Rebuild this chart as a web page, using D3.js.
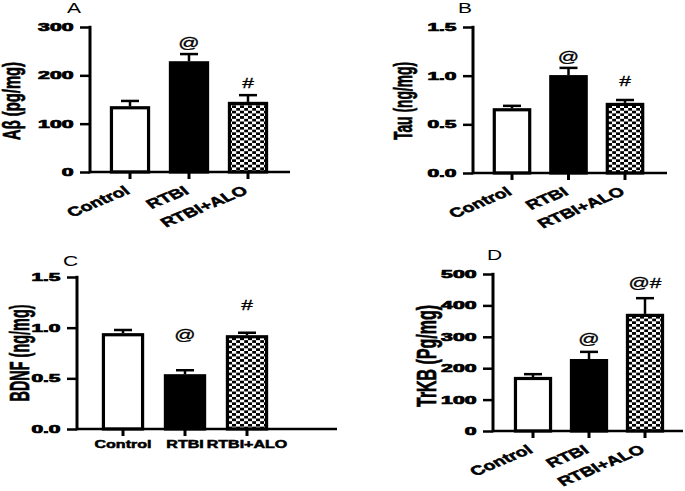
<!DOCTYPE html>
<html>
<head>
<meta charset="utf-8">
<script src="https://cdn.jsdelivr.net/npm/d3@7"></script>
<style>
  html, body { margin: 0; padding: 0; background: #fff; }
  svg { display: block; }
  text { font-family: "Liberation Sans", Arial, sans-serif; fill: #000; }
</style>
</head>
<body>
<svg id="chart" width="685" height="491"></svg>
<script>
// ---------- data ----------
const categories = ["Control", "RTBI", "RTBI+ALO"];

const abetaMean = [136, 229, 145];
const abetaSem  = [11, 15, 14];
const abetaMarks = ["", "@", "#"];
const abetaMarkY = [null, 256, 174];
const abetaTicks = [0, 100, 200, 300];

const tauMean = [0.665, 1.005, 0.72];
const tauSem  = [0.025, 0.075, 0.03];
const tauMarks = ["", "@", "#"];
const tauMarkY = [null, 1.14, 0.894];
const tauTicks = [0, 0.5, 1.0, 1.5];

const bdnfMean = [0.945, 0.54, 0.925];
const bdnfSem  = [0.032, 0.04, 0.025];
const bdnfMarks = ["", "@", "#"];
const bdnfMarkY = [null, 0.878, 1.174];
const bdnfTicks = [0, 0.5, 1.0, 1.5];

const trkbMean = [172, 229, 373];
const trkbSem  = [9, 23, 50];
const trkbMarks = ["", "@", "@#"];
const trkbMarkY = [null, 277, 455];
const trkbTicks = [0, 100, 200, 300, 400, 500];

// ---------- layout ----------
const SX = 1.5; // horizontal stretch of the reference figure
const panels = [
  { letter: "A", letterX: 67, letterY: 13, label: "Aβ (pg/mg)", labelX: 20, labelY: 101, labelSize: 16, labelLen: 78,
    mean: abetaMean, sem: abetaSem, marks: abetaMarks, markY: abetaMarkY, ticks: abetaTicks, fmt: d3.format("d"),
    axisX: 90, axisRight: 290, yTop: 27, yBottom: 172, c0: 130, c2: 248, rotated: true },
  { letter: "B", letterX: 458, letterY: 13, label: "Tau (ng/mg)", labelX: 412, labelY: 101, labelSize: 17, labelLen: 78,
    mean: tauMean, sem: tauSem, marks: tauMarks, markY: tauMarkY, ticks: tauTicks, fmt: d3.format(".1f"),
    axisX: 473, axisRight: 667, yTop: 27, yBottom: 173, c0: 512, c2: 625, rotated: true },
  { letter: "C", letterX: 63, letterY: 266, label: "BDNF (ng/mg)", labelX: 29, labelY: 353, labelSize: 18, labelLen: 97,
    mean: bdnfMean, sem: bdnfSem, marks: bdnfMarks, markY: bdnfMarkY, ticks: bdnfTicks, fmt: d3.format(".1f"),
    axisX: 77, axisRight: 337, yTop: 277, yBottom: 429, c0: 123, c2: 247, rotated: false },
  { letter: "D", letterX: 487, letterY: 260, label: "TrKB (Pg/mg)", labelX: 436, labelY: 356, labelSize: 18, labelLen: 102,
    mean: trkbMean, sem: trkbSem, marks: trkbMarks, markY: trkbMarkY, ticks: trkbTicks, fmt: d3.format("d"),
    axisX: 493, axisRight: 683, yTop: 274, yBottom: 431, c0: 533, c2: 645, rotated: true }
];

const svg = d3.select("#chart");

// checker pattern
const defs = svg.append("defs");
const pat = defs.append("pattern").attr("id", "checker")
  .attr("patternUnits", "userSpaceOnUse").attr("width", 8).attr("height", 5.4);
pat.append("rect").attr("width", 8).attr("height", 5.4).attr("fill", "#000");
pat.append("rect").attr("x", 0).attr("y", 0).attr("width", 4.2).attr("height", 2.7).attr("fill", "#fff");
pat.append("rect").attr("x", 4).attr("y", 2.7).attr("width", 4.2).attr("height", 2.7).attr("fill", "#fff");

const fills = ["#fff", "#000", "url(#checker)"];

function tickLen(s) {
  let w = 0;
  for (const ch of s) w += (ch === ".") ? 5.5 : 11.8;
  return w / SX;
}

panels.forEach(p => {
  const g = svg.append("g");
  const step = (p.c2 - p.c0) / 2;
  const x = d3.scaleBand().domain(categories)
    .range([p.c0 - step / 2, p.c2 + step / 2])
    .paddingInner(0.32).paddingOuter(0.16);
  const y = d3.scaleLinear().domain([0, d3.max(p.ticks)]).range([p.yBottom, p.yTop]);

  // bars
  categories.forEach((c, i) => {
    const bx = x(c), bw = x.bandwidth();
    const yTopErr = y(p.mean[i] + p.sem[i]);
    g.append("line").attr("x1", bx + bw / 2).attr("x2", bx + bw / 2)
      .attr("y1", y(p.mean[i])).attr("y2", yTopErr)
      .attr("stroke", "#000").attr("stroke-width", 2.5);
    g.append("line").attr("x1", bx + bw / 2 - 9).attr("x2", bx + bw / 2 + 9)
      .attr("y1", yTopErr).attr("y2", yTopErr)
      .attr("stroke", "#000").attr("stroke-width", 2.5);
    g.append("rect").attr("x", bx + 1.5).attr("y", y(p.mean[i]) + 1.5)
      .attr("width", bw - 3).attr("height", y(0) - y(p.mean[i]) - 1.5)
      .attr("fill", fills[i]).attr("stroke", "#000").attr("stroke-width", 3.2);
    if (p.marks[i]) {
      g.append("text")
        .attr("transform", `translate(${bx + bw / 2},${y(p.markY[i])}) scale(${SX},1)`)
        .attr("text-anchor", "middle").attr("font-size", 14)
        .attr("stroke", "#000").attr("stroke-width", 0.3)
        .text(p.marks[i]);
    }
  });

  // y axis
  const yAxis = d3.axisLeft(y).tickValues(p.ticks).tickFormat(p.fmt).tickSize(10).tickPadding(0);
  const ya = g.append("g").attr("transform", `translate(${p.axisX},0)`).call(yAxis);
  ya.select(".domain").remove();
  ya.selectAll(".tick line").attr("stroke", "#000").attr("stroke-width", 2.5);
  ya.selectAll(".tick text").each(function(d) {
    const t = d3.select(this);
    const s = p.fmt(d);
    t.attr("x", null).attr("dy", null)
      .attr("transform", `translate(-16.5,0) scale(${SX},1)`)
      .attr("dominant-baseline", "central")
      .attr("text-anchor", "end")
      .attr("font-size", 10.2).attr("font-weight", "bold")
      .attr("font-family", "'Liberation Sans', Arial, sans-serif")
      .attr("fill", "#000").attr("stroke", "#000").attr("stroke-width", 0.7)
      .attr("textLength", tickLen(s)).attr("lengthAdjust", "spacingAndGlyphs");
  });
  g.append("line").attr("x1", p.axisX).attr("x2", p.axisX)
    .attr("y1", p.yTop - 1.2).attr("y2", p.yBottom + 1.2)
    .attr("stroke", "#000").attr("stroke-width", 3);

  // x axis
  g.append("line").attr("x1", p.axisX).attr("x2", p.axisRight)
    .attr("y1", p.yBottom).attr("y2", p.yBottom)
    .attr("stroke", "#000").attr("stroke-width", 2.5);
  categories.forEach(c => {
    const cx = x(c) + x.bandwidth() / 2;
    g.append("line").attr("x1", cx).attr("x2", cx)
      .attr("y1", p.yBottom).attr("y2", p.yBottom + 7)
      .attr("stroke", "#000").attr("stroke-width", 3);
    if (p.rotated) {
      g.append("text")
        .attr("transform", `translate(${cx + 1},${p.yBottom + 21}) scale(${SX},1) rotate(-32)`)
        .attr("text-anchor", "end").attr("font-size", 13).attr("font-weight", "bold")
        .attr("stroke", "#000").attr("stroke-width", 0.5)
        .text(c);
    } else {
      g.append("text")
        .attr("transform", `translate(${cx},${p.yBottom + 19}) scale(${SX},1)`)
        .attr("text-anchor", "middle").attr("font-size", 10.7).attr("font-weight", "bold")
        .attr("stroke", "#000").attr("stroke-width", 0.5)
        .text(c);
    }
  });

  // y label
  g.append("text")
    .attr("transform", `translate(${p.labelX},${p.labelY}) scale(${SX},1) rotate(-90)`)
    .attr("text-anchor", "middle").attr("font-size", p.labelSize).attr("font-weight", "bold")
    .attr("stroke", "#000").attr("stroke-width", 0.45)
    .attr("textLength", p.labelLen).attr("lengthAdjust", "spacingAndGlyphs")
    .text(p.label);

  // panel letter
  g.append("text")
    .attr("transform", `translate(${p.letterX},${p.letterY}) scale(1.4,1)`)
    .attr("font-size", 15)
    .text(p.letter);
});
</script>
</body>
</html>
